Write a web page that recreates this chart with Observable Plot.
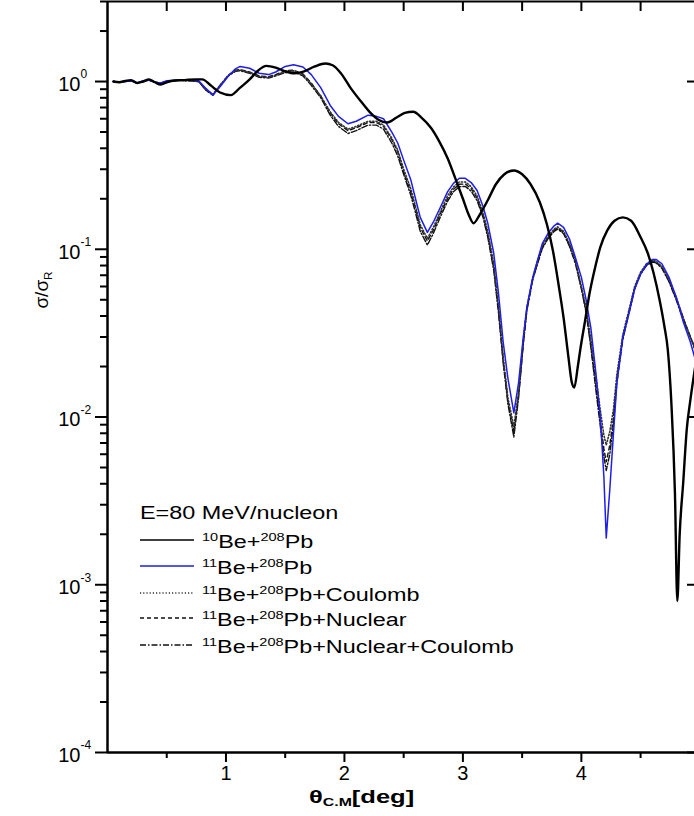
<!DOCTYPE html>
<html><head><meta charset="utf-8">
<script src="https://cdn.jsdelivr.net/npm/d3@7"></script>
<script src="https://cdn.jsdelivr.net/npm/@observablehq/plot@0.6"></script>
<style>
html,body{margin:0;padding:0;background:#fff;overflow:hidden;width:694px;height:816px;}
#wrap{position:relative;width:694px;height:816px;font-family:"Liberation Sans",Arial,sans-serif;color:#000;overflow:hidden;}
#chart{position:absolute;left:0;top:0;}
.abs{position:absolute;white-space:nowrap;}
.sx{display:inline-block;transform-origin:left center;}
sup{font-size:0.62em;vertical-align:baseline;position:relative;top:-0.62em;line-height:0;}
sub{font-size:0.62em;vertical-align:baseline;position:relative;top:0.3em;line-height:0;}
</style></head><body><div id="wrap"><div id="chart"></div></div>
<script>
// ---- axis ticks ----
const xMajor = [1, 2, 3, 4];
const xMinor = [0.5, 1.5, 2.5, 3.5, 4.5];
const yMajor = [1e-4, 1e-3, 1e-2, 1e-1, 1];
const yExp = ["-4", "-3", "-2", "-1", "0"];

// ---- 10Be + 208Pb ----
const thetaA = [0.05,0.1,0.15,0.2,0.25,0.3,0.35,0.4,0.45,0.5,
0.55,0.65,0.75,0.8,0.87,0.95,1.04,1.12,1.2,1.27,
1.34,1.42,1.5,1.58,1.66,1.75,1.84,1.9,1.97,2.05,
2.14,2.22,2.29,2.36,2.44,2.51,2.58,2.65,2.73,2.8,
2.87,2.94,3.0,3.05,3.09,3.14,3.21,3.28,3.35,3.43,
3.5,3.57,3.65,3.71,3.76,3.81,3.85,3.89,3.92,3.94,
3.97,3.99,4.03,4.07,4.12,4.16,4.22,4.28,4.35,4.42,
4.5,4.56,4.61,4.66,4.7,4.73,4.76,4.79,4.81,4.83,
4.86,4.89,4.92,4.97];
const be10 = [1.00,0.99,1.01,1.02,0.98,1.00,1.03,0.99,0.96,0.99,
1.01,1.02,1.03,1.03,0.95,0.86,0.83,0.92,1.03,1.16,
1.24,1.21,1.15,1.12,1.15,1.23,1.28,1.25,1.12,0.92,
0.76,0.65,0.59,0.57,0.61,0.65,0.66,0.61,0.53,0.44,
0.35,0.26,0.20,0.16,0.143,0.16,0.196,0.245,0.28,0.295,
0.28,0.245,0.19,0.14,0.098,0.06,0.039,0.023,0.016,0.015,
0.02,0.025,0.037,0.055,0.08,0.103,0.13,0.148,0.155,0.148,
0.118,0.095,0.072,0.05,0.035,0.025,0.012,0.0035,0.0008,0.002,
0.0041,0.0085,0.0126,0.022];

// ---- 11Be + 208Pb family ----
const thetaB = [0.05,0.1,0.15,0.2,0.25,0.3,0.35,0.4,0.45,0.5,
0.6,0.7,0.77,0.83,0.89,0.95,1.02,1.08,1.12,1.2,
1.28,1.36,1.42,1.5,1.57,1.65,1.72,1.8,1.88,1.95,
2.03,2.1,2.2,2.27,2.33,2.4,2.45,2.5,2.56,2.6,
2.64,2.7,2.75,2.81,2.87,2.92,2.97,3.02,3.07,3.12,
3.17,3.21,3.26,3.3,3.34,3.38,3.43,3.47,3.51,3.54,
3.59,3.63,3.67,3.72,3.77,3.8,3.85,3.9,3.95,4.0,
4.04,4.08,4.12,4.16,4.19,4.21,4.24,4.27,4.3,4.35,
4.4,4.45,4.5,4.55,4.6,4.63,4.68,4.74,4.8,4.86,
4.92,4.97];
const be11 = [1.00,0.99,1.00,1.01,0.98,1.01,1.02,0.99,0.98,1.01,
1.02,1.02,1.01,0.91,0.83,0.93,1.08,1.19,1.23,1.20,
1.12,1.10,1.14,1.23,1.26,1.22,1.10,0.92,0.72,0.62,
0.56,0.58,0.63,0.62,0.60,0.50,0.43,0.34,0.26,0.20,
0.155,0.126,0.145,0.178,0.22,0.247,0.265,0.265,0.25,0.224,
0.18,0.143,0.095,0.055,0.028,0.017,0.0106,0.016,0.03,0.045,
0.068,0.086,0.108,0.125,0.138,0.143,0.135,0.115,0.089,0.068,
0.05,0.034,0.019,0.010,0.0044,0.0019,0.0037,0.0078,0.016,0.030,
0.041,0.058,0.071,0.081,0.087,0.087,0.082,0.068,0.052,0.037,
0.028,0.021];
const be11C = [1.00,0.99,1.00,1.01,0.98,1.00,1.02,0.99,0.98,1.00,
1.02,1.01,1.00,0.90,0.84,0.95,1.09,1.16,1.17,1.13,
1.07,1.06,1.09,1.15,1.16,1.10,0.97,0.82,0.66,0.57,
0.52,0.54,0.58,0.58,0.55,0.46,0.39,0.30,0.23,0.18,
0.14,0.116,0.135,0.168,0.208,0.235,0.252,0.252,0.236,0.208,
0.165,0.128,0.082,0.046,0.023,0.013,0.0088,0.014,0.029,0.045,
0.068,0.085,0.105,0.12,0.132,0.136,0.128,0.108,0.085,0.06,
0.045,0.029,0.018,0.011,0.0078,0.0068,0.0082,0.011,0.018,0.031,
0.043,0.06,0.073,0.082,0.086,0.085,0.079,0.066,0.052,0.039,
0.030,0.024];
const be11N = [1.00,0.99,1.00,1.01,0.98,1.00,1.02,0.99,0.98,1.00,
1.02,1.01,1.00,0.89,0.83,0.95,1.09,1.17,1.18,1.14,
1.08,1.07,1.10,1.16,1.17,1.11,0.98,0.82,0.65,0.56,
0.51,0.53,0.57,0.57,0.54,0.45,0.38,0.29,0.22,0.175,
0.135,0.112,0.13,0.163,0.2,0.228,0.244,0.245,0.23,0.202,
0.16,0.123,0.079,0.044,0.022,0.0125,0.0082,0.0135,0.028,0.044,
0.067,0.083,0.103,0.118,0.13,0.134,0.126,0.106,0.084,0.059,
0.043,0.027,0.016,0.0095,0.0065,0.0054,0.0068,0.0098,0.017,0.030,
0.042,0.059,0.072,0.081,0.085,0.084,0.078,0.065,0.051,0.039,
0.030,0.024];
const be11NC = [1.00,0.99,1.00,1.01,0.98,1.00,1.02,0.99,0.98,1.00,
1.02,1.01,1.00,0.89,0.83,0.94,1.08,1.15,1.16,1.12,
1.06,1.05,1.08,1.13,1.14,1.08,0.95,0.80,0.63,0.54,
0.49,0.51,0.55,0.55,0.52,0.43,0.36,0.28,0.21,0.165,
0.128,0.106,0.124,0.156,0.193,0.22,0.236,0.237,0.222,0.195,
0.155,0.118,0.075,0.042,0.021,0.012,0.0076,0.013,0.027,0.043,
0.066,0.082,0.101,0.116,0.128,0.132,0.124,0.104,0.082,0.058,
0.042,0.026,0.015,0.0088,0.0058,0.0048,0.006,0.009,0.016,0.029,
0.041,0.058,0.071,0.08,0.084,0.083,0.077,0.064,0.05,0.038,
0.030,0.025];

// ---- series table / styles ----
const seriesDefs = [
  {key: "NC", x: thetaB, y: be11NC, stroke: "#111", width: 1.4, dash: "6,2,1.5,2", curve: "linear", sup1: "11", tail: "Pb+Nuclear+Coulomb"},
  {key: "N",  x: thetaB, y: be11N,  stroke: "#111", width: 1.4, dash: "4,3", curve: "linear", sup1: "11", tail: "Pb+Nuclear"},
  {key: "C",  x: thetaB, y: be11C,  stroke: "#333", width: 1.6, dash: "1.2,2", curve: "linear", sup1: "11", tail: "Pb+Coulomb"},
  {key: "B11", x: thetaB, y: be11, stroke: "#1e1ee8", width: 1.5, dash: null, curve: "linear", sup1: "11", tail: "Pb"},
  {key: "B10", x: thetaA, y: be10, stroke: "#000", width: 2.4, dash: null, curve: "monotone-x", sup1: "10", tail: "Pb"}
];
const legendOrder = ["B10", "B11", "C", "N", "NC"];

const yMinor = [];
for (const d of [1e-4, 1e-3, 1e-2, 1e-1, 1]) for (let k = 2; k <= 9; k++) if (d * k <= 3) yMinor.push(d * k);
const xTop = xMajor.concat(xMinor);

const lineMarks = seriesDefs.map(s => Plot.line(s.x.map((t, i) => ({t, v: s.y[i]})), {
  x: "t", y: "v", stroke: s.stroke, strokeWidth: s.width,
  strokeDasharray: s.dash || undefined, curve: s.curve, clip: true, strokeLinejoin: "round"
}));

const chart = Plot.plot({
  width: 694, height: 790,
  marginLeft: 107, marginRight: 0, marginTop: 1, marginBottom: 38,
  x: {domain: [0, 4.955]},
  y: {type: "log", domain: [1e-4, 3]},
  style: {fontFamily: '"Liberation Sans", Arial, sans-serif', fontSize: "20px", background: "white", color: "black", overflow: "visible"},
  marks: [
    ...lineMarks,
    Plot.axisX(xMajor, {anchor: "bottom", tickSize: 10, tickPadding: 3, strokeWidth: 2, fontSize: 20, tickFormat: d => String(d), label: null}),
    Plot.axisX(xMinor, {anchor: "bottom", tickSize: 6, strokeWidth: 2, tickFormat: () => "", label: null}),
    Plot.tickX(xTop, {x: d => d, insetBottom: 741, stroke: "black", strokeWidth: 2}),
    Plot.axisY(yMajor, {anchor: "left", tickSize: 12, strokeWidth: 2, tickFormat: () => "", label: null}),
    Plot.axisY(yMinor, {anchor: "left", tickSize: 7, strokeWidth: 2, tickFormat: () => "", label: null}),
    Plot.tickY(yMajor, {y: d => d, insetLeft: 580, stroke: "black", strokeWidth: 2}),
    Plot.text(yMajor, {y: d => d, frameAnchor: "left", dx: -27, dy: 3, text: () => "10", textAnchor: "end", fontSize: 20}),
    Plot.text(yMajor, {y: d => d, frameAnchor: "left", dx: -27, dy: -7, text: (d, i) => yExp[i], textAnchor: "start", fontSize: 12}),
    Plot.ruleX([0], {stroke: "black", strokeWidth: 2.5}),
    Plot.ruleY([1e-4], {stroke: "black", strokeWidth: 2.5}),
    Plot.ruleY([3], {stroke: "black", strokeWidth: 2})
  ]
});
document.getElementById("chart").appendChild(chart);

// ---- legend / labels (HTML) ----
const wrap = document.getElementById("wrap");
function add(html, style) {
  const d = document.createElement("div");
  d.className = "abs";
  d.style.cssText = style;
  d.innerHTML = html;
  wrap.appendChild(d);
  return d;
}
const legTitle = "E=80 MeV/nucleon";
add(`<span class="sx" style="transform:scaleX(1.33)">${legTitle}</span>`, "left:140px;top:502px;font-size:17.6px;line-height:22px;");
const rowCenters = [540, 566, 593, 618, 645];
legendOrder.forEach((k, i) => {
  const s = seriesDefs.find(d => d.key === k);
  const c = rowCenters[i];
  add(`<svg width="56" height="6"><line x1="0" x2="54" y1="3" y2="3" stroke="${s.stroke}" stroke-width="${Math.min(s.width, 1.6)}" ${s.dash ? `stroke-dasharray="${s.dash}"` : ""}/></svg>`,
      `left:140px;top:${c - 3}px;line-height:0;`);
  add(`<span class="sx" style="transform:scaleX(1.33)"><sup>${s.sup1}</sup>Be+<sup>208</sup>${s.tail}</span>`,
      `left:202px;top:${c - 9}px;font-size:17.6px;line-height:22px;`);
});
// y label
add(`σ/σ<sub>R</sub>`, "left:42px;top:290px;font-size:19px;transform:translate(-50%,-50%) rotate(-90deg);");
// x label
add(`<span class="sx" style="transform:scaleX(1.38)">θ<sub>C.M</sub>[deg]</span>`, "left:309px;top:786px;font-size:18.5px;font-weight:bold;line-height:22px;");
// caption (cut off at the bottom edge, as in the reference)
add(`<span class="sx" style="transform:scaleX(1.3)">Figure 7: Elastic angular distributions</span>`, "left:143px;top:812px;font-size:22px;line-height:22px;font-family:'Liberation Serif','DejaVu Serif',serif;");
</script>
</body></html>
